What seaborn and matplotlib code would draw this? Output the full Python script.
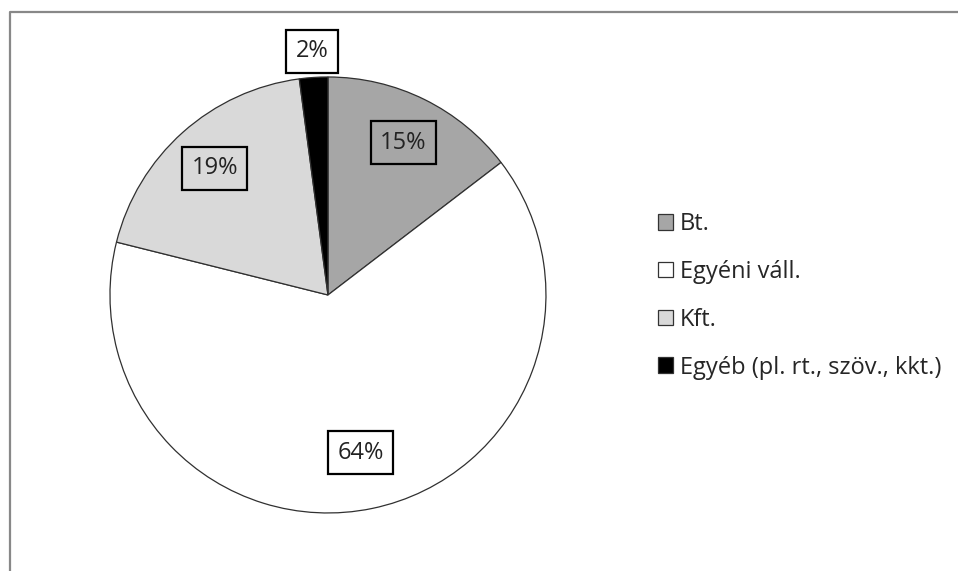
import numpy as np
import matplotlib.pyplot as plt
import seaborn as sns
from matplotlib.patches import Patch
from matplotlib.lines import Line2D

sns.set_style("white")
plt.rcParams['font.family'] = ['Open Sans', 'DejaVu Sans']

# Data (share of enterprises by legal form, %)
categories = ["Bt.", "Egyéni váll.", "Kft.", "Egyéb (pl. rt., szöv., kkt.)"]
values = [14.6, 64.3, 19.0, 2.1]
colors = ["#a6a6a6", "#ffffff", "#d9d9d9", "#000000"]

fig = plt.figure(figsize=(9.58, 5.71), dpi=100)
ax = fig.add_axes([0.1148, 0.1016, 0.4551, 0.7636])

wedges, texts, autotexts = ax.pie(
    values, colors=colors, startangle=90, counterclock=False,
    autopct=lambda p: f"{p:.0f}%", pctdistance=0.78,
    wedgeprops=dict(edgecolor="#303030", linewidth=0.9),
    textprops=dict(fontsize=17, color="#222222"),
)
ax.set_xlim(-1, 1)
ax.set_ylim(-1, 1)
ax.set_aspect("equal")
ax.axis("off")

# boxed labels, small slice label placed just outside the pie
for w, t, v in zip(wedges, autotexts, values):
    ang = np.deg2rad((w.theta1 + w.theta2) / 2)
    d = 1.12 if v < 5 else (0.74 if v > 50 else 0.78)
    t.set_position((d * np.cos(ang), d * np.sin(ang)))
    t.set_clip_on(False)
    t.set_bbox(dict(boxstyle="square,pad=0.4", fc="none", ec="black", lw=1.6))

# legend on the right
handles = [Patch(facecolor=c, edgecolor="#333333", linewidth=0.9) for c in colors]
fig.legend(handles, categories, loc="center left",
           bbox_to_anchor=(658 / 958, 0.482), frameon=False,
           fontsize=17, handlelength=0.64, handleheight=0.64,
           handletextpad=0.3, labelspacing=1.01,
           borderpad=0, borderaxespad=0)

# grey chart frame (top and left edges visible)
fig.add_artist(Line2D([9.5 / 958, 9.5 / 958, 1.0], [0.0, 1 - 12 / 571, 1 - 12 / 571],
                      transform=fig.transFigure, color="#888888", linewidth=1.6))

fig.savefig("out.png", dpi=100)
